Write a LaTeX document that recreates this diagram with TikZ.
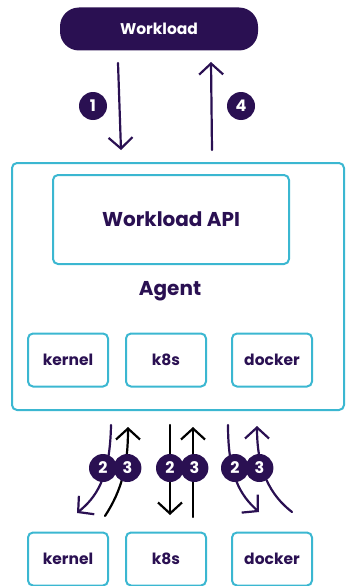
\documentclass[tikz,border=0pt]{standalone}
\usepackage{fontspec}
\setmainfont{Poppins}
\usetikzlibrary{arrows.meta,positioning}
\definecolor{spirepurple}{HTML}{2A1052}
\definecolor{spirecyan}{HTML}{3BB7D1}

\begin{document}
\begin{tikzpicture}
  [x=1pt,y=-1pt,>={Straight Barb[length=11pt,width=24pt,line width=2.2pt]},
  every node/.style={font=\bfseries,text=spirepurple},
  pill/.style={fill=spirepurple,rounded corners=19pt,minimum width=198pt,
    minimum height=43pt,text=white,font=\bfseries\fontsize{15.5}{18}\selectfont},
  panel/.style={draw=spirecyan,line width=2pt,rounded corners=5pt},
  plugin/.style={panel,minimum width=80pt,minimum height=53pt,
    font=\bfseries\fontsize{15.5}{18}\selectfont},
  badge/.style={circle,fill=spirepurple,text=white,inner sep=0pt,
    minimum size=28pt,font=\bfseries\fontsize{16}{18}\selectfont},
  flow/.style={->,line width=2.2pt,line cap=round},
  purple flow/.style={flow,draw=spirepurple},
  black flow/.style={flow,draw=black}]
  \useasboundingbox (0,0) rectangle (346,586);

  % workload and the agent
  \node [pill] (wl) at (159,29) {Workload};
  \node [panel,minimum width=332pt,minimum height=247pt] (agent) at (178,286.5) {};
  \node [panel,minimum width=236pt,minimum height=89pt,
    font=\bfseries\fontsize{20}{23}\selectfont] (api) at (171,219.5) {Workload API};
  \node [font=\bfseries\fontsize{20}{23}\selectfont] (name) at (170,291) {Agent};
  \node [plugin] (kernel) at (68,360) {kernel};
  \node [plugin] (k8s) at (166,360) {k8s};
  \node [plugin] (docker) at (272,360) {docker};

  % the outside systems
  \node [plugin] (kernel') at (68,559) {kernel};
  \node [plugin] (k8s') at (166,559) {k8s};
  \node [plugin] (docker') at (272,559) {docker};

  % call and reply
  \coordinate (c1a) at (118,63);  \coordinate (c1b) at (121,150);
  \coordinate (c4a) at (212,150); \coordinate (c4b) at (211,62);
  \draw [purple flow] (c1a) -- (c1b);
  \draw [purple flow] (c4a) -- (c4b);
  \node [badge] (b1) at (93,106) {1};
  \node [badge] (b4) at (241,106) {4};

  % attestation
  \coordinate (ka) at (111,425); \coordinate (kb) at (77,513);
  \coordinate (kc) at (105,516); \coordinate (kd) at (128,427);
  \coordinate (sa) at (170,425); \coordinate (sb) at (170,515);
  \coordinate (sc) at (193,517); \coordinate (sd) at (193,427);
  \coordinate (da) at (228,425); \coordinate (db) at (259,512);
  \coordinate (dc) at (292,512); \coordinate (dd) at (257,426);
  \draw [purple flow] (ka) .. controls (110,480) and (95,498) .. (kb);
  \draw [black flow] (kc) .. controls (122,490) and (128,465) .. (kd);
  \draw [black flow] (sa) -- (sb);
  \draw [black flow] (sc) -- (sd);
  \draw [purple flow] (da) .. controls (228,475) and (240,495) .. (db);
  \draw [purple flow] (dc) .. controls (270,495) and (257,470) .. (dd);
  \foreach \x/\n in {103/k,170/s,235/d} {
    \node [badge] (\n2) at (\x,468) {2};
    \node [badge,right=-4pt of \n2] (\n3) {3};
  }
\end{tikzpicture}
\end{document}
